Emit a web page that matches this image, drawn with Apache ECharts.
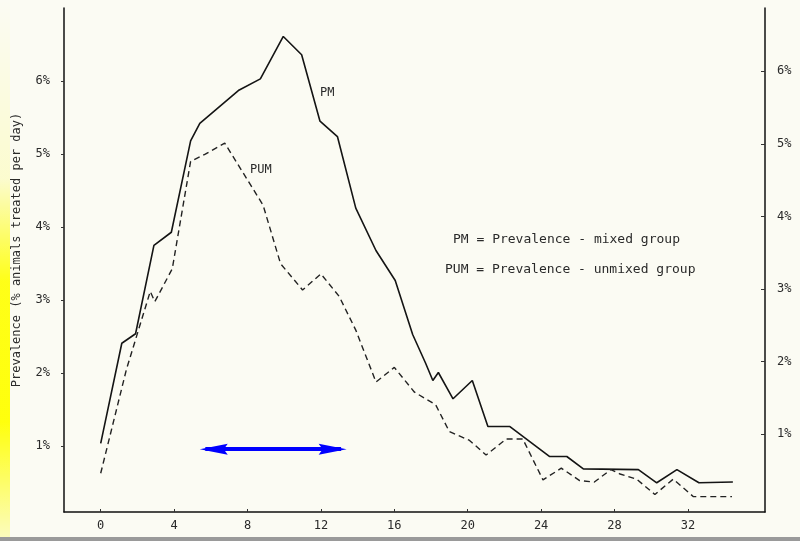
<!DOCTYPE html>
<html>
<head>
<meta charset="utf-8">
<script src="https://cdn.jsdelivr.net/npm/echarts@6/dist/echarts.min.js"></script>
<style>
html, body { margin: 0; padding: 0; background: #fbfbf3; }
#chart { width: 800px; height: 541px; }
</style>
</head>
<body>
<div id="chart"></div>
<script>
// days after mixing, prevalence (%)
const pmDays = [0, 1.15, 1.9, 2.9, 3.85, 4.9, 5.4, 7.5, 8.7, 9.95, 10.95, 11.95, 12.9, 13.9, 15.0, 16.05, 17.0, 17.7, 18.1, 18.4, 19.2, 20.25, 21.1, 22.3, 24.45, 25.4, 26.3, 29.3, 30.3, 31.4, 32.6, 34.45]
const pmVals = [1.04, 2.41, 2.54, 3.75, 3.93, 5.18, 5.42, 5.87, 6.03, 6.61, 6.36, 5.45, 5.24, 4.26, 3.68, 3.27, 2.53, 2.14, 1.9, 2.01, 1.65, 1.9, 1.27, 1.27, 0.86, 0.86, 0.69, 0.68, 0.5, 0.68, 0.5, 0.51]

const pumDays = [0, 1.4, 2.7, 2.95, 3.9, 4.9, 5.7, 6.76, 8.85, 9.8, 11.0, 12.0, 13.0, 13.9, 15.0, 16.0, 17.1, 18.25, 19.0, 20.1, 21.0, 22.1, 23.0, 24.1, 25.1, 26.1, 26.9, 27.8, 28.3, 29.2, 30.2, 31.2, 32.3, 34.4]
const pumVals = [0.63, 2.05, 3.12, 2.98, 3.43, 4.9, 5.0, 5.15, 4.3, 3.5, 3.14, 3.36, 3.05, 2.59, 1.88, 2.08, 1.74, 1.57, 1.2, 1.08, 0.88, 1.1, 1.1, 0.54, 0.7, 0.53, 0.51, 0.68, 0.62, 0.55, 0.34, 0.55, 0.31, 0.31]

const xTicks = [0, 4, 8, 12, 16, 20, 24, 28, 32]
const yTicks = [1, 2, 3, 4, 5, 6]

// the blue double arrow under the rise (days, %)
const arrowY = 0.96
const arrowShaft = [5.7, 13.1]
const arrowHeads = [6.16, 12.64]

const mono = 'DejaVu Sans Mono'
const ink = '#2a2a2a'
const blue = '#0000ff'

const chart = echarts.init(document.getElementById('chart'))

const option = {
    backgroundColor: '#fbfbf3',
    animation: false,
    grid: { left: 64, right: 35, top: 8, bottom: 29 },
    xAxis: {
        type: 'value',
        min: -2,
        max: 36.2,
        splitLine: { show: false },
        axisLine: { onZero: false, lineStyle: { color: '#111', width: 1.5 } },
        axisTick: { customValues: xTicks, inside: true, length: 3, lineStyle: { color: '#333' } },
        axisLabel: { customValues: xTicks, margin: 8, color: ink, fontFamily: mono, fontSize: 12 }
    },
    yAxis: [
        {
            type: 'value',
            min: 0.1,
            max: 7.0,
            splitLine: { show: false },
            axisLine: { show: true, onZero: false, lineStyle: { color: '#111', width: 1.5 } },
            axisTick: { customValues: yTicks, length: 3, lineStyle: { color: '#333' } },
            axisLabel: { customValues: yTicks, margin: 14, color: ink, fontFamily: mono, fontSize: 12, formatter: '{value}%' }
        },
        {
            // right axis in the scan sits ~10px higher than the left one
            type: 'value',
            position: 'right',
            min: -0.07,
            max: 6.87,
            splitLine: { show: false },
            axisLine: { show: true, onZero: false, lineStyle: { color: '#111', width: 1.5 } },
            axisTick: { customValues: yTicks, inside: true, length: 4, lineStyle: { color: '#333' } },
            axisLabel: { customValues: yTicks, margin: 12, color: ink, fontFamily: mono, fontSize: 12, formatter: '{value}%' }
        }
    ],
    series: [
        {
            name: 'PM',
            type: 'line',
            data: pmDays.map((d, i) => [d, pmVals[i]]),
            symbol: 'none',
            lineStyle: { color: '#141414', width: 1.6 },
            markLine: {
                silent: true,
                symbol: ['none', 'none'],
                label: { show: false },
                lineStyle: { color: blue, width: 4, type: 'solid' },
                emphasis: { disabled: true },
                data: [[{ coord: [arrowShaft[0], arrowY] }, { coord: [arrowShaft[1], arrowY] }]]
            },
            markPoint: {
                silent: true,
                label: { show: false },
                itemStyle: { color: blue },
                symbolSize: [28, 11],
                data: [
                    { coord: [arrowHeads[0], arrowY], symbol: 'path://M28,0 L0,5.5 L28,11 L24,5.5 Z' },
                    { coord: [arrowHeads[1], arrowY], symbol: 'path://M0,0 L28,5.5 L0,11 L4,5.5 Z' }
                ]
            }
        },
        {
            name: 'PUM',
            type: 'line',
            data: pumDays.map((d, i) => [d, pumVals[i]]),
            symbol: 'none',
            lineStyle: { color: '#222', width: 1.4, type: [6, 4] }
        }
    ],
    graphic: [
        {
            type: 'rect',
            left: 0, top: 0,
            shape: { width: 10, height: 541 },
            style: {
                fill: new echarts.graphic.LinearGradient(0, 0, 0, 1, [
                    { offset: 0, color: 'rgba(255,255,0,0)' },
                    { offset: 0.33, color: 'rgba(255,255,0,0.15)' },
                    { offset: 0.52, color: 'rgba(255,255,0,0.9)' },
                    { offset: 0.78, color: 'rgba(255,255,0,0.95)' },
                    { offset: 1, color: 'rgba(255,255,0,0.2)' }
                ])
            },
            silent: true
        },
        {
            type: 'rect',
            left: 0, top: 537,
            shape: { width: 800, height: 4 },
            style: { fill: '#9a9a9a' },
            silent: true
        },
        {
            type: 'text',
            x: 17, y: 250,
            rotation: Math.PI / 2,
            style: { text: 'Prevalence (% animals treated per day)', fill: ink, font: '12px ' + mono, align: 'center', verticalAlign: 'middle' }
        },
        {
            type: 'text', x: 320, y: 93,
            style: { text: 'PM', fill: ink, font: '12px ' + mono, verticalAlign: 'middle' }
        },
        {
            type: 'text', x: 250, y: 170,
            style: { text: 'PUM', fill: ink, font: '12px ' + mono, verticalAlign: 'middle' }
        },
        {
            type: 'text', x: 453, y: 240,
            style: { text: 'PM = Prevalence - mixed group', fill: ink, font: '13px ' + mono, verticalAlign: 'middle' }
        },
        {
            type: 'text', x: 445, y: 270,
            style: { text: 'PUM = Prevalence - unmixed group', fill: ink, font: '13px ' + mono, verticalAlign: 'middle' }
        }
    ]
}

chart.setOption(option)
</script>
</body>
</html>
